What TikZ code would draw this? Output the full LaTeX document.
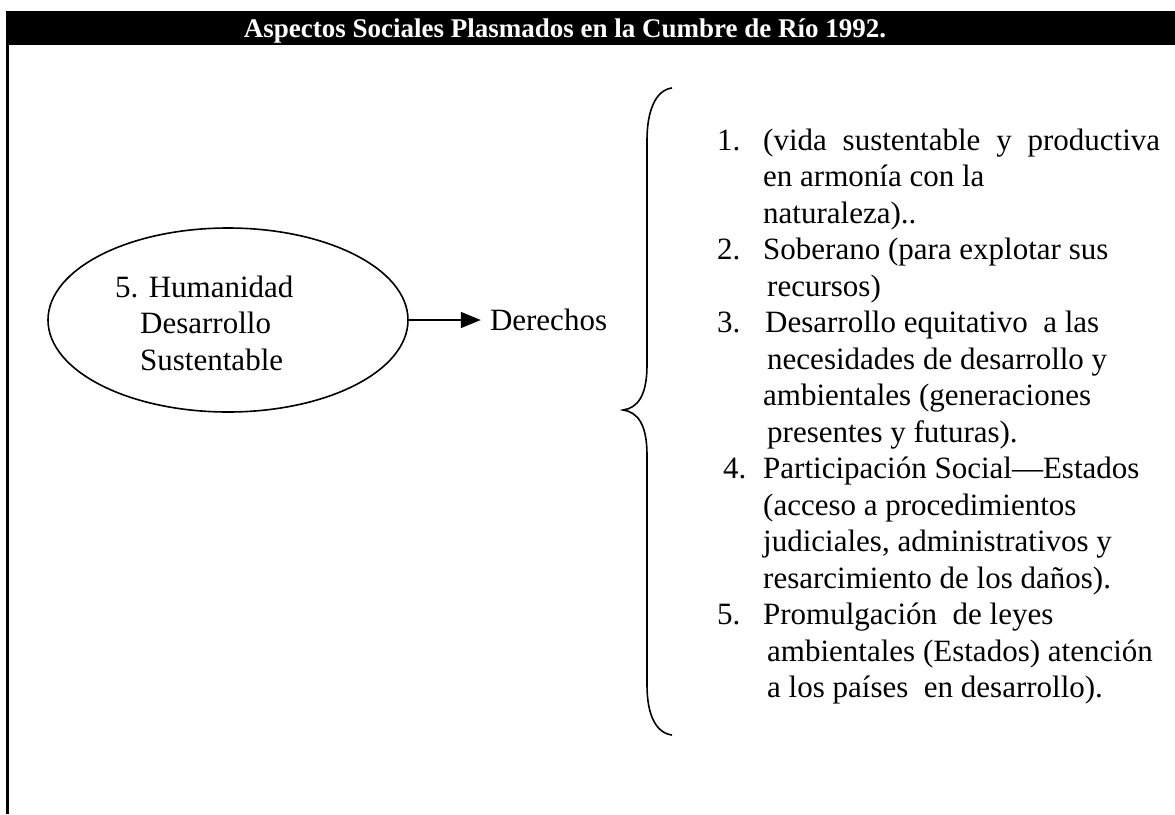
\documentclass[tikz,border=0pt]{standalone}
\usepackage{fontspec}
\setmainfont{Liberation Serif}
\usetikzlibrary{shapes.geometric}
\usetikzlibrary{arrows.meta}
\usetikzlibrary{positioning}

\begin{document}
\begin{tikzpicture}[x=1pt,y=-1pt,
          txt/.style={inner sep=0pt,font=\fontsize{31}{36.5}\selectfont},
          burbuja/.style={draw,ellipse,line width=1.6pt,minimum width=360pt,minimum height=184pt,inner sep=0pt},
          flecha/.style={line width=1.6pt,-{Triangle[length=20pt,width=16pt]}}]
  \useasboundingbox (0,0) rectangle (1175,814);
  % cabecera
  \fill[black] (7,11) rectangle (1175,45);
  \node[anchor=base,text=white,inner sep=0pt,font=\bfseries\fontsize{27}{30}\selectfont] (titulo) at (565,37) {Aspectos Sociales Plasmados en la Cumbre de Río 1992.};
  \draw[line width=3pt] (7,11) -- (7,814);
  % elipse y flecha
  \node[burbuja] (hum) at (228,320) {};
  \node[txt,anchor=base west] (humtxt) at (115,297) {\begin{tabular}[t]{@{}l@{}}5. Humanidad\\\hspace*{25pt}Desarrollo\\\hspace*{25pt}Sustentable\end{tabular}};
  \node[txt,inner xsep=9pt,right=72pt of hum] (der) {Derechos};
  \draw[flecha] (hum.east) -- (der.west);
  % llave
  \draw[line width=1.6pt] (672,88) .. controls (656,90) and (647,110) .. (647,140) -- (647,365)
        .. controls (647,395) and (638,408) .. (623,410) .. controls (638,412) and (647,425) .. (647,455)
        -- (647,685) .. controls (647,715) and (656,733) .. (672,735);
  % lista
  \node[txt,anchor=base west] (lista) at (717,150) {\begin{tabular}[t]{@{}p{46pt}@{}l@{}}
    1. & \makebox[397pt][s]{(vida sustentable y productiva}\\
       & en armonía con la\\
       & naturaleza)..\\
    2. & Soberano (para explotar sus\\
       & \hspace*{4pt}recursos)\\
    3. & \hspace*{2pt}Desarrollo equitativo\ \ a las\\
       & \hspace*{4pt}necesidades de desarrollo y\\
       & ambientales (generaciones\\
       & \hspace*{4pt}presentes y futuras).\\
    \hspace*{6pt}4. & Participación Social—Estados\\
       & (acceso a procedimientos\\
       & judiciales, administrativos y\\
       & resarcimiento de los daños).\\
    5. & Promulgación\ \ de leyes\\
       & \hspace*{4pt}ambientales (Estados) atención\\
       & \hspace*{4pt}a los países\ \ en desarrollo).
  \end{tabular}};
\end{tikzpicture}
\end{document}
